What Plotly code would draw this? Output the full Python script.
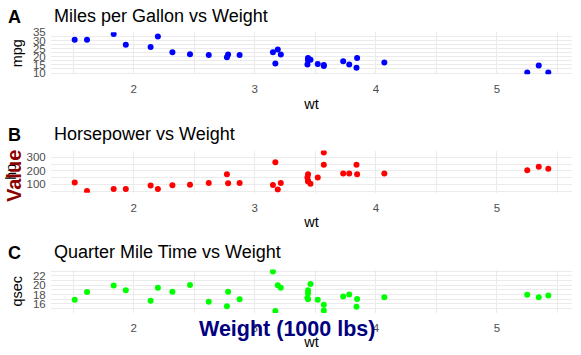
import plotly.graph_objects as go

# mtcars data
wt = [2.620, 2.875, 2.320, 3.215, 3.440, 3.460, 3.570, 3.190, 3.150, 3.440, 3.440,
      4.070, 3.730, 3.780, 5.250, 5.424, 5.345, 2.200, 1.615, 1.835, 2.465, 3.520,
      3.435, 3.840, 3.845, 1.935, 2.140, 1.513, 3.170, 2.770, 3.570, 2.780]
mpg = [21.0, 21.0, 22.8, 21.4, 18.7, 18.1, 14.3, 24.4, 22.8, 19.2, 17.8,
       16.4, 17.3, 15.2, 10.4, 10.4, 14.7, 32.4, 30.4, 33.9, 21.5, 15.5,
       15.2, 13.3, 19.2, 27.3, 26.0, 30.4, 15.8, 19.7, 15.0, 21.4]
hp = [110, 110, 93, 110, 175, 105, 245, 62, 95, 123, 123,
      180, 180, 180, 205, 215, 230, 66, 52, 65, 97, 150,
      150, 245, 175, 66, 91, 113, 264, 175, 335, 109]
qsec = [16.46, 17.02, 18.61, 19.44, 17.02, 20.22, 15.84, 20.00, 22.90, 18.30, 18.90,
        17.40, 17.60, 18.00, 17.98, 17.82, 17.42, 19.47, 18.52, 19.90, 20.01, 16.87,
        17.30, 15.41, 17.05, 18.90, 16.70, 16.90, 14.50, 15.50, 14.60, 18.60]

panel_titles = ["Miles per Gallon vs Weight", "Horsepower vs Weight", "Quarter Mile Time vs Weight"]
panel_tags = ["A", "B", "C"]
y_names = ["mpg", "hp", "qsec"]
colors = ["#0000FF", "#FF0000", "#00FF00"]
x_ticks = [2, 3, 4, 5]
x_minor = [1.5, 2.5, 3.5, 4.5, 5.5]
y_ticks = [[10, 15, 20, 25, 30, 35], [100, 200, 300], [16, 18, 20, 22]]
y_minor = [[12.5, 17.5, 22.5, 27.5, 32.5], [50, 150, 250], [15, 17, 19, 21, 23]]

W, H = 581, 355
FONT = "Liberation Sans, Arial, sans-serif"
GRID = "#EBEBEB"
TICKC = "#4D4D4D"

def px_x(p):
    return p / W

def px_y(p):
    return 1 - p / H

# panel pixel extents (top, bottom)
panels = [(32.2, 74.3), (150.6, 192.8), (269.5, 313.0)]
title_y = [16, 134, 251.5]
xl, xr = 51, 572

def expand(v):
    lo, hi = min(v), max(v)
    d = (hi - lo) * 0.05
    return [lo - d, hi + d]

series = [mpg, hp, qsec]
fig = go.Figure()
layout = {}
annotations = []
for i in range(3):
    ax = "" if i == 0 else str(i + 1)
    fig.add_trace(go.Scatter(
        x=wt, y=series[i], mode="markers",
        marker=dict(color=colors[i], size=6, line=dict(width=0)),
        xaxis="x" + ax, yaxis="y" + ax, showlegend=False,
        name=y_names[i],
    ))
    top, bot = panels[i]
    layout["xaxis" + ax] = dict(
        domain=[px_x(xl), px_x(xr)], anchor="y" + ax, automargin=False,
        range=expand(wt), tickvals=x_ticks, ticktext=[str(t) for t in x_ticks],
        showgrid=True, gridcolor=GRID, gridwidth=1.1, zeroline=False, showline=False,
        ticks="outside", ticklen=4, tickcolor="rgba(0,0,0,0)",
        tickfont=dict(family=FONT, size=11.5, color=TICKC),
        minor=dict(tickvals=x_minor, showgrid=True, gridcolor=GRID, gridwidth=0.6, ticks=""),
        title=dict(text="wt", font=dict(family=FONT, size=14.5, color="black"), standoff=4),
        fixedrange=True,
    )
    layout["yaxis" + ax] = dict(
        domain=[px_y(bot), px_y(top)], anchor="x" + ax, automargin=False,
        range=expand(series[i]), tickvals=y_ticks[i], ticktext=[str(t) for t in y_ticks[i]],
        showgrid=True, gridcolor=GRID, gridwidth=1.1, zeroline=False, showline=False,
        ticks="outside", ticklen=2, tickcolor="rgba(0,0,0,0)",
        tickfont=dict(family=FONT, size=11.5, color=TICKC),
        minor=dict(tickvals=y_minor[i], showgrid=True, gridcolor=GRID, gridwidth=0.6, ticks=""),
        title=dict(text=y_names[i], font=dict(family=FONT, size=14.5, color="black"), standoff=6),
        fixedrange=True,
    )
    annotations.append(dict(
        text=panel_titles[i], x=px_x(51.5), y=px_y(title_y[i]), xref="paper", yref="paper",
        xanchor="left", yanchor="middle", showarrow=False,
        font=dict(family=FONT, size=18, color="black"),
    ))
    annotations.append(dict(
        text="<b>" + panel_tags[i] + "</b>", x=px_x(5.5), y=px_y(title_y[i] + 1), xref="paper", yref="paper",
        xanchor="left", yanchor="middle", showarrow=False,
        font=dict(family=FONT, size=18, color="black"),
    ))

annotations.append(dict(
    text="<b>Value</b>", x=px_x(14), y=px_y(176), xref="paper", yref="paper",
    xanchor="center", yanchor="middle", textangle=-90, showarrow=False,
    font=dict(family=FONT, size=20, color="#8B0000"),
))
annotations.append(dict(
    text="<b>Weight (1000 lbs)</b>", x=px_x(286.5), y=px_y(329), xref="paper", yref="paper",
    xanchor="center", yanchor="middle", showarrow=False,
    font=dict(family=FONT, size=21.5, color="#000080"),
))

fig.update_layout(
    width=W, height=H, margin=dict(l=0, r=0, t=0, b=0),
    paper_bgcolor="white", plot_bgcolor="white",
    annotations=annotations, **layout,
)
fig.write_html("out.html", config={"displayModeBar": False},
               post_script="document.body.style.margin='0px';document.body.style.overflow='hidden';")
